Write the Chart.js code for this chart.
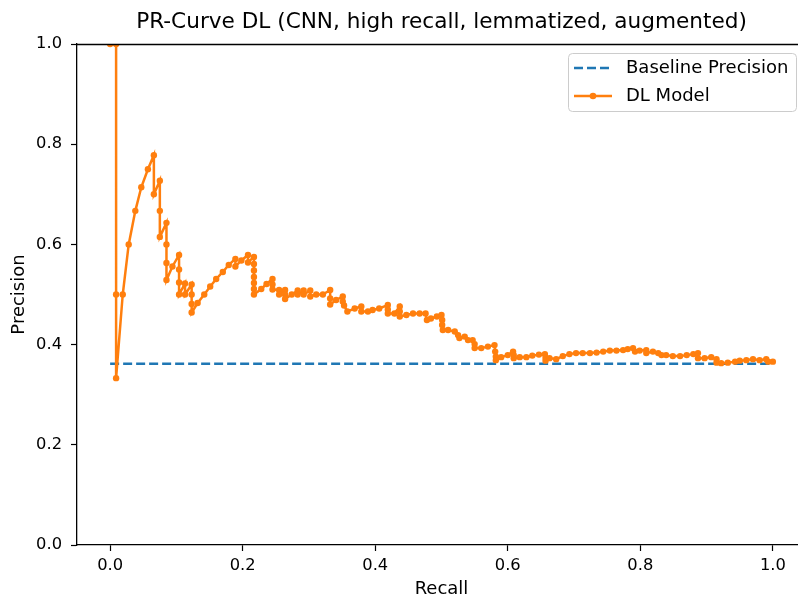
<!DOCTYPE html>
<html><head><meta charset="utf-8">
<script src="https://cdn.jsdelivr.net/npm/chart.js@4.4.0/dist/chart.umd.min.js"></script>
<style>html,body{margin:0;padding:0;background:#fff;overflow:hidden;width:798px;height:598px}#wrap{width:798px;height:598px;overflow:hidden}canvas{display:block}</style>
</head><body><div id="wrap"><canvas id="c" width="820" height="598"></canvas></div>
<script>
const chartTitle = "PR-Curve DL (CNN, high recall, lemmatized, augmented)";
const xLabel = "Recall";
const yLabel = "Precision";
const xTicks = [0.0, 0.2, 0.4, 0.6, 0.8, 1.0];
const yTicks = [0.0, 0.2, 0.4, 0.6, 0.8, 1.0];
const seriesNames = ["Baseline Precision", "DL Model"];
const baselineRecall = [0, 1];
const baselinePrecision = [0.362, 0.362];
const modelRecall = [
0.000,0.009,0.009,0.009,0.019,0.028,0.038,0.047,0.057,0.066,0.066,0.075,0.075,0.075,
0.085,0.085,0.085,0.085,0.094,0.104,0.104,0.104,0.104,0.113,0.113,0.123,0.123,0.123,0.123,
0.132,0.142,0.151,0.160,0.170,0.179,0.189,0.189,0.198,0.208,0.208,
0.217,0.217,0.217,0.217,0.217,0.217,0.217,
0.228,0.236,0.245,0.245,0.245,0.255,0.255,0.264,0.264,0.264,0.274,0.283,0.283,0.292,0.292,
0.302,0.302,0.311,0.321,
0.332,0.332,0.332,0.341,0.351,0.351,0.353,0.358,0.369,0.379,0.379,0.389,0.396,0.406,
0.419,0.419,0.419,0.429,0.437,0.437,0.437,0.447,0.457,0.467,0.476,0.478,0.484,0.493,
0.500,0.501,0.501,0.502,0.510,0.520,0.525,0.527,0.535,0.540,0.547,0.550,0.550,0.560,
0.570,0.580,0.581,0.582,0.582,0.590,0.600,0.608,0.609,0.609,0.618,0.628,0.637,0.647,
0.656,0.657,0.657,0.663,0.673,0.683,0.693,0.703,0.713,0.724,0.734,0.744,0.754,0.764,
0.774,0.781,0.789,0.792,0.799,0.809,0.809,0.819,0.827,0.832,0.839,0.849,0.860,0.870,
0.880,0.887,0.887,0.897,0.907,0.915,0.915,0.922,0.932,0.943,0.950,0.960,0.970,0.980,
0.990,0.993,1.000
];
const modelPrecision = [
1.000,1.000,0.500,0.333,0.500,0.600,0.667,0.714,0.750,0.778,0.700,0.727,0.667,0.615,
0.643,0.600,0.563,0.529,0.556,0.579,0.550,0.524,0.500,0.522,0.500,0.520,0.500,0.481,0.464,
0.483,0.500,0.516,0.531,0.545,0.559,0.571,0.556,0.568,0.579,0.564,
0.575,0.561,0.548,0.535,0.523,0.511,0.500,
0.511,0.521,0.531,0.520,0.510,0.509,0.500,0.509,0.500,0.491,0.500,0.508,0.500,0.508,0.500,
0.508,0.496,0.500,0.500,
0.509,0.492,0.480,0.489,0.496,0.486,0.478,0.466,0.472,0.476,0.466,0.466,0.469,0.472,
0.479,0.470,0.462,0.462,0.476,0.466,0.456,0.459,0.462,0.462,0.462,0.449,0.452,0.456,
0.459,0.449,0.439,0.429,0.429,0.426,0.419,0.413,0.416,0.409,0.409,0.401,0.393,0.393,
0.396,0.399,0.386,0.376,0.369,0.375,0.379,0.386,0.379,0.373,0.375,0.375,0.378,0.380,
0.381,0.374,0.368,0.373,0.371,0.377,0.381,0.383,0.383,0.383,0.384,0.386,0.388,0.388,
0.389,0.391,0.393,0.386,0.388,0.389,0.383,0.386,0.383,0.379,0.379,0.377,0.377,0.379,
0.381,0.383,0.373,0.373,0.375,0.371,0.364,0.363,0.364,0.366,0.368,0.369,0.371,0.369,
0.371,0.366,0.366
];

const FONT = "'DejaVu Sans', 'Liberation Sans', sans-serif";
const BLUE = '#1f77b4', ORANGE = '#ff7f0e';
const X_MIN = -0.05, X_MAX = 1.05;

const overlay = {
  id: 'overlay',
  afterDraw(chart) {
    const ctx = chart.ctx, a = chart.chartArea, xs = chart.scales.x;
    ctx.save();
    ctx.strokeStyle = '#000'; ctx.lineWidth = 1.3;
    ctx.beginPath(); ctx.moveTo(a.left, a.top + 0.5); ctx.lineTo(a.right, a.top + 0.5); ctx.stroke();
    ctx.fillStyle = '#000';
    ctx.font = '21.6px ' + FONT;
    ctx.textAlign = 'center'; ctx.textBaseline = 'middle';
    ctx.fillText(chartTitle, xs.getPixelForValue(0.5), 22.5);
    const bx = 568.5, by = 53.5, bw = 228, bh = 58, r = 4;
    ctx.fillStyle = 'rgba(255,255,255,0.8)';
    ctx.strokeStyle = '#cccccc'; ctx.lineWidth = 1;
    ctx.beginPath();
    ctx.moveTo(bx + r, by); ctx.lineTo(bx + bw - r, by); ctx.arcTo(bx + bw, by, bx + bw, by + r, r);
    ctx.lineTo(bx + bw, by + bh - r); ctx.arcTo(bx + bw, by + bh, bx + bw - r, by + bh, r);
    ctx.lineTo(bx + r, by + bh); ctx.arcTo(bx, by + bh, bx, by + bh - r, r);
    ctx.lineTo(bx, by + r); ctx.arcTo(bx, by, bx + r, by, r);
    ctx.closePath(); ctx.fill(); ctx.stroke();
    const rows = [68, 96];
    ctx.strokeStyle = BLUE; ctx.lineWidth = 2.5; ctx.setLineDash([9, 4]);
    ctx.beginPath(); ctx.moveTo(574, rows[0]); ctx.lineTo(612, rows[0]); ctx.stroke();
    ctx.setLineDash([]);
    ctx.strokeStyle = ORANGE;
    ctx.beginPath(); ctx.moveTo(574, rows[1]); ctx.lineTo(612, rows[1]); ctx.stroke();
    ctx.fillStyle = ORANGE; ctx.beginPath(); ctx.arc(593, rows[1], 3.3, 0, Math.PI * 2); ctx.fill();
    ctx.fillStyle = '#000'; ctx.font = '18px ' + FONT; ctx.textAlign = 'left';
    ctx.fillText(seriesNames[0], 626, rows[0]);
    ctx.fillText(seriesNames[1], 626, rows[1]);
    ctx.restore();
  }
};

const fmt = v => Number(v).toFixed(1);
new Chart(document.getElementById('c'), {
  type: 'line',
  data: {
    datasets: [
      {
        label: seriesNames[0],
        data: baselineRecall.map((x, i) => ({ x, y: baselinePrecision[i] })),
        borderColor: BLUE, borderWidth: 2.5, borderDash: [9, 4],
        pointRadius: 0, fill: false, tension: 0, order: 2
      },
      {
        label: seriesNames[1],
        data: modelRecall.map((x, i) => ({ x, y: modelPrecision[i] })),
        borderColor: ORANGE, backgroundColor: ORANGE, borderWidth: 2.5,
        pointRadius: 3.2, pointBorderWidth: 0, pointBackgroundColor: ORANGE,
        fill: false, tension: 0, order: 1
      }
    ]
  },
  options: {
    responsive: false, animation: false, devicePixelRatio: 1,
    layout: { padding: { top: 44, right: 14, left: 0, bottom: 0 } },
    plugins: { legend: { display: false }, title: { display: false }, tooltip: { enabled: false } },
    scales: {
      x: {
        type: 'linear', min: X_MIN, max: X_MAX,
        afterBuildTicks: s => { s.ticks = xTicks.map(v => ({ value: v })); },
        afterFit: s => { s.height = 53; },
        ticks: { callback: fmt, font: { family: FONT, size: 16.3 }, color: '#000', padding: 5, maxRotation: 0, autoSkip: false },
        grid: { display: true, drawOnChartArea: false, drawTicks: true, tickLength: 6, tickColor: '#000', tickWidth: 1.2 },
        border: { display: true, color: '#000', width: 1.3 },
        title: { display: true, text: xLabel, color: '#000', font: { family: FONT, size: 18, lineHeight: 1 }, padding: 0 }
      },
      y: {
        type: 'linear', min: 0, max: 1,
        afterBuildTicks: s => { s.ticks = yTicks.map(v => ({ value: v })); },
        afterFit: s => { s.width = 77; },
        ticks: { callback: fmt, font: { family: FONT, size: 16.3 }, color: '#000', padding: 9, autoSkip: false },
        grid: { display: true, drawOnChartArea: false, drawTicks: true, tickLength: 6, tickColor: '#000', tickWidth: 1.2 },
        border: { display: true, color: '#000', width: 1.3 },
        title: { display: true, text: yLabel, color: '#000', font: { family: FONT, size: 18, lineHeight: 1.2 }, padding: { top: 9, bottom: 0 } }
      }
    }
  },
  plugins: [overlay]
});
</script></body></html>
